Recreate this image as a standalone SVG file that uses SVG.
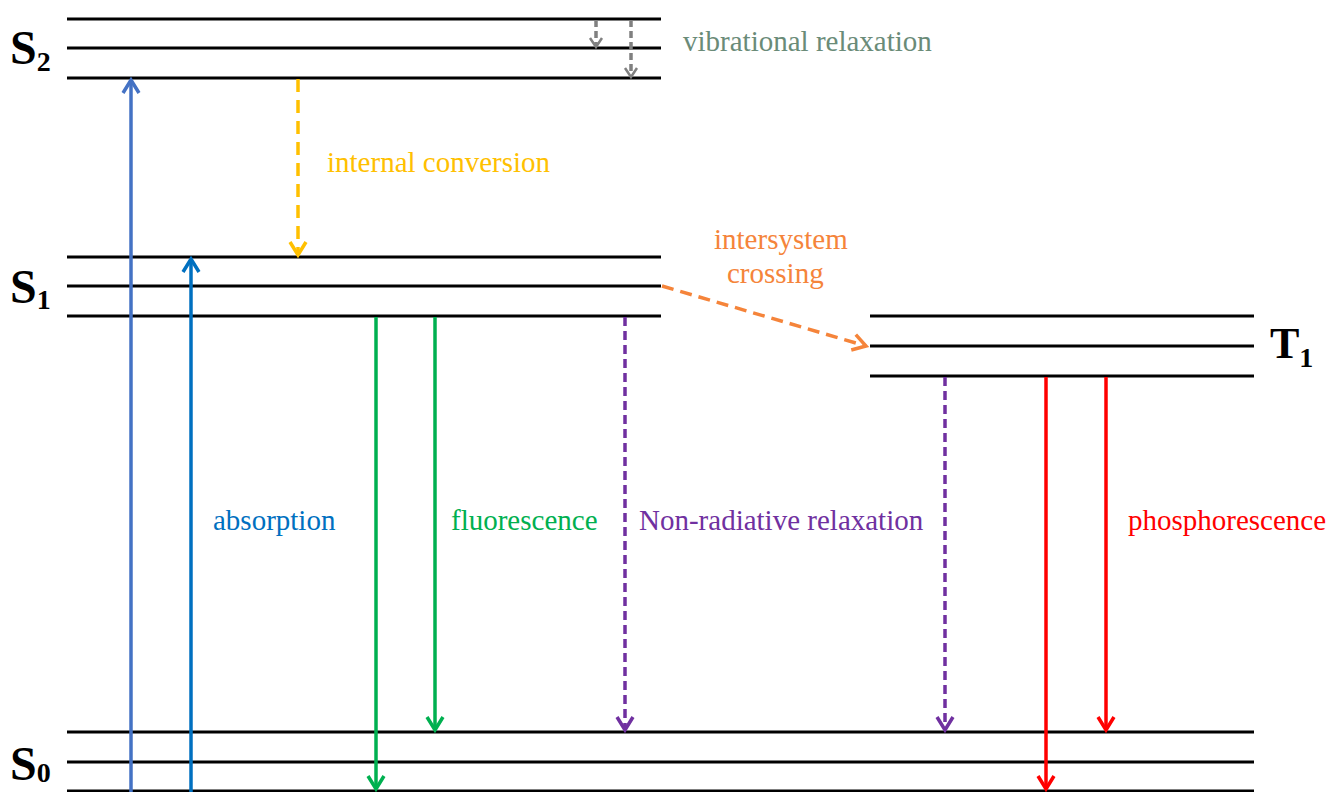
<svg xmlns="http://www.w3.org/2000/svg" width="1331" height="792" viewBox="0 0 1331 792">
<style>
.lvl{stroke:#000;stroke-width:3;fill:none}
.arr{fill:none;stroke-width:3.5}
.lbl{font-family:"Liberation Serif","Times New Roman",serif;font-size:29px}
.st{font-family:"Liberation Serif","Times New Roman",serif;font-weight:bold;fill:#000}
</style>
<defs>
<marker id="mBlue1" markerUnits="userSpaceOnUse" viewBox="-15 -11 18 22" markerWidth="18" markerHeight="22" refX="0" refY="0" orient="auto"><path d="M-13,-8 L0,0 L-13,8" fill="none" stroke="#4472C4" stroke-width="3.5"/></marker>
<marker id="mBlue2" markerUnits="userSpaceOnUse" viewBox="-15 -11 18 22" markerWidth="18" markerHeight="22" refX="0" refY="0" orient="auto"><path d="M-13,-8 L0,0 L-13,8" fill="none" stroke="#0070C0" stroke-width="3.5"/></marker>
<marker id="mYellow" markerUnits="userSpaceOnUse" viewBox="-15 -11 18 22" markerWidth="18" markerHeight="22" refX="0" refY="0" orient="auto"><path d="M-13,-8 L0,0 L-13,8" fill="none" stroke="#FFC000" stroke-width="3.5"/></marker>
<marker id="mGreen" markerUnits="userSpaceOnUse" viewBox="-15 -11 18 22" markerWidth="18" markerHeight="22" refX="0" refY="0" orient="auto"><path d="M-13,-8 L0,0 L-13,8" fill="none" stroke="#00B050" stroke-width="3.5"/></marker>
<marker id="mPurple" markerUnits="userSpaceOnUse" viewBox="-15 -11 18 22" markerWidth="18" markerHeight="22" refX="0" refY="0" orient="auto"><path d="M-13,-8 L0,0 L-13,8" fill="none" stroke="#7030A0" stroke-width="3.5"/></marker>
<marker id="mRed" markerUnits="userSpaceOnUse" viewBox="-15 -11 18 22" markerWidth="18" markerHeight="22" refX="0" refY="0" orient="auto"><path d="M-13,-8 L0,0 L-13,8" fill="none" stroke="#FF0000" stroke-width="3.5"/></marker>
<marker id="mOrange" markerUnits="userSpaceOnUse" viewBox="-15 -11 18 22" markerWidth="18" markerHeight="22" refX="0" refY="0" orient="auto"><path d="M-13,-8 L0,0 L-13,8" fill="none" stroke="#F5843A" stroke-width="3.5"/></marker>
<marker id="mGray" markerUnits="userSpaceOnUse" viewBox="-12 -8 14 16" markerWidth="14" markerHeight="16" refX="0" refY="0" orient="auto"><path d="M-9,-6 L0,0 L-9,6" fill="none" stroke="#808080" stroke-width="2.5"/></marker>
</defs>
<rect width="1331" height="792" fill="#fff"/>

<g id="S2">
<line class="lvl" x1="67" y1="19" x2="661" y2="19"/>
<line class="lvl" x1="67" y1="48" x2="661" y2="48"/>
<line class="lvl" x1="67" y1="78" x2="661" y2="78"/>
<text class="st" x="10" y="64" font-size="48">S<tspan font-size="28" dy="7">2</tspan></text>
</g>
<g id="S1">
<line class="lvl" x1="67" y1="257" x2="661" y2="257"/>
<line class="lvl" x1="67" y1="286" x2="661" y2="286"/>
<line class="lvl" x1="67" y1="316" x2="661" y2="316"/>
<text class="st" x="10" y="303" font-size="48">S<tspan font-size="28" dy="6">1</tspan></text>
</g>
<g id="T1">
<line class="lvl" x1="870" y1="316" x2="1254" y2="316"/>
<line class="lvl" x1="870" y1="346" x2="1254" y2="346"/>
<line class="lvl" x1="870" y1="376" x2="1254" y2="376"/>
<text class="st" x="1270" y="358" font-size="44">T<tspan font-size="28" dy="9">1</tspan></text>
</g>
<g id="S0">
<line class="lvl" x1="67" y1="732" x2="1254" y2="732"/>
<line class="lvl" x1="67" y1="762" x2="1254" y2="762"/>
<line class="lvl" x1="67" y1="791" x2="1254" y2="791"/>
<text class="st" x="10" y="780" font-size="48">S<tspan font-size="28" dy="2">0</tspan></text>
</g>

<g id="connectors">
<line class="arr" x1="131" y1="792" x2="131" y2="80" stroke="#4472C4" marker-end="url(#mBlue1)"/>
<line class="arr" x1="191" y1="792" x2="191" y2="259" stroke="#0070C0" marker-end="url(#mBlue2)"/>
<line class="arr" x1="298" y1="79" x2="298" y2="255" stroke="#FFC000" stroke-dasharray="13 8" marker-end="url(#mYellow)"/>
<line class="arr" x1="376" y1="317" x2="376" y2="789" stroke="#00B050" marker-end="url(#mGreen)"/>
<line class="arr" x1="435" y1="317" x2="435" y2="730" stroke="#00B050" marker-end="url(#mGreen)"/>
<line class="arr" x1="625" y1="317" x2="625" y2="730" stroke="#7030A0" stroke-dasharray="9 5" marker-end="url(#mPurple)"/>
<line class="arr" x1="945" y1="377" x2="945" y2="730" stroke="#7030A0" stroke-dasharray="9 5" marker-end="url(#mPurple)"/>
<line class="arr" x1="1046" y1="377" x2="1046" y2="789" stroke="#FF0000" marker-end="url(#mRed)"/>
<line class="arr" x1="1106" y1="377" x2="1106" y2="730" stroke="#FF0000" marker-end="url(#mRed)"/>
<line class="arr" x1="662" y1="286" x2="866" y2="346" stroke="#F5843A" stroke-dasharray="12 7" marker-end="url(#mOrange)"/>
<line class="arr" x1="596" y1="20" x2="596" y2="47" stroke="#808080" stroke-width="2.5" stroke-dasharray="7 4" marker-end="url(#mGray)"/>
<line class="arr" x1="631" y1="20" x2="631" y2="77" stroke="#808080" stroke-width="2.5" stroke-dasharray="7 4" marker-end="url(#mGray)"/>
</g>

<g id="labels">
<text class="lbl" x="683" y="51" fill="#6A8B78">vibrational relaxation</text>
<text class="lbl" x="327" y="172" fill="#FFC000">internal conversion</text>
<text class="lbl" x="714" y="249" fill="#F5843A">intersystem</text>
<text class="lbl" x="727" y="283" fill="#F5843A">crossing</text>
<text class="lbl" x="213" y="530" fill="#0070C0">absorption</text>
<text class="lbl" x="451" y="530" fill="#00B050">fluorescence</text>
<text class="lbl" x="639" y="530" fill="#7030A0">Non-radiative relaxation</text>
<text class="lbl" x="1128" y="530" fill="#FF0000">phosphorescence</text>
</g>
</svg>
